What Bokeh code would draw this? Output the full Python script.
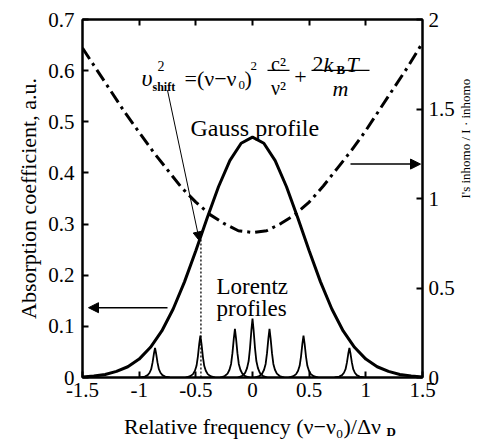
import math
from bokeh.plotting import figure
from bokeh.models import (Range1d, LinearAxis, Label, Arrow, NormalHead, ColumnDataSource,
                          FixedTicker, CustomJSTickFormatter)
from bokeh.embed import file_html
from bokeh.resources import INLINE

# ---------------- data ----------------
gauss_x = [-1.5, -1.4, -1.3, -1.2, -1.1, -1.0, -0.9, -0.8, -0.7, -0.6, -0.5, -0.4, -0.3, -0.2, -0.1,
           0.0, 0.1, 0.2, 0.3, 0.4, 0.5, 0.6, 0.7, 0.8, 0.9, 1.0, 1.1, 1.2, 1.3, 1.4, 1.5]
gauss_y = [0.001, 0.003, 0.006, 0.012, 0.021, 0.036, 0.059, 0.091, 0.134, 0.187, 0.248, 0.312, 0.373, 0.424, 0.458,
           0.470, 0.458, 0.424, 0.373, 0.312, 0.248, 0.187, 0.134, 0.091, 0.059, 0.036, 0.021, 0.012, 0.006, 0.003, 0.001]

ratio_x = [-1.5, -1.375, -1.25, -1.125, -1.0, -0.875, -0.75, -0.625, -0.5, -0.375, -0.25, -0.125,
           0.0, 0.125, 0.25, 0.375, 0.5, 0.625, 0.75, 0.875, 1.0, 1.125, 1.25, 1.375, 1.5]
ratio_y = [1.84, 1.72, 1.60, 1.48, 1.37, 1.26, 1.16, 1.06, 0.98, 0.91, 0.86, 0.82,
           0.81, 0.82, 0.86, 0.91, 0.98, 1.07, 1.17, 1.27, 1.38, 1.50, 1.62, 1.74, 1.87]

lorentz_centers = [-0.86, -0.46, -0.155, 0.0, 0.15, 0.45, 0.855]
lorentz_heights = [0.058, 0.082, 0.095, 0.115, 0.095, 0.082, 0.058]
lorentz_offsets = [-0.13, -0.09, -0.065, -0.048, -0.034, -0.022, -0.01, 0.0,
                   0.01, 0.022, 0.034, 0.048, 0.065, 0.09, 0.13]
lorentz_shape = [0.0, 0.03, 0.08, 0.16, 0.28, 0.5, 0.8, 1.0, 0.8, 0.5, 0.28, 0.16, 0.08, 0.03, 0.0]

shift_x = -0.455
shift_top = 0.27

x_ticks = [-1.5, -1.0, -0.5, 0.0, 0.5, 1.0, 1.5]
left_ticks = [0, 0.1, 0.2, 0.3, 0.4, 0.5, 0.6, 0.7]
right_ticks = [0, 0.5, 1, 1.5, 2]

FONT = "Liberation Serif"

# ---------------- figure ----------------
p = figure(width=484, height=441, output_backend="svg", toolbar_location=None,
           x_range=Range1d(-1.5, 1.5), y_range=Range1d(0, 0.7),
           min_border_left=82, min_border_right=62, min_border_top=19, min_border_bottom=63)
p.extra_y_ranges = {"right": Range1d(0, 2)}
p.xgrid.visible = False
p.ygrid.visible = False
p.outline_line_color = "black"
p.outline_line_width = 2
p.background_fill_color = "white"
p.border_fill_color = "white"

fmt = CustomJSTickFormatter(code="return tick.toString();")


def style_axis(ax, ticks):
    ax.ticker = FixedTicker(ticks=ticks)
    ax.formatter = fmt
    ax.axis_line_width = 2
    ax.axis_line_color = "black"
    ax.major_tick_in = 6
    ax.major_tick_out = 0
    ax.major_tick_line_width = 2
    ax.minor_tick_line_color = None
    ax.major_label_text_font = FONT
    ax.major_label_text_font_size = "21px"
    ax.major_label_text_color = "black"
    ax.axis_label_text_font = FONT
    ax.axis_label_text_font_style = "normal"
    ax.axis_label_text_color = "black"


xa = p.xaxis[0]
style_axis(xa, x_ticks)
xa.major_label_standoff = 5
xa.axis_label = "Relative frequency (ν−ν₀)/Δν"
xa.axis_label_text_font_size = "22px"
xa.axis_label_standoff = 14

ya = p.yaxis[0]
style_axis(ya, left_ticks)
ya.major_label_standoff = 8
ya.axis_label = "Absorption coefficient, a.u."
ya.axis_label_text_font_size = "22px"
ya.axis_label_standoff = 4

right_axis = LinearAxis(y_range_name="right")
style_axis(right_axis, right_ticks)
right_axis.major_label_standoff = 6
right_axis.axis_label = "I's inhomo / I · inhomo"
right_axis.axis_label_text_font_size = "13px"
right_axis.axis_label_standoff = 8
right_axis.axis_label_orientation = math.pi / 2
p.add_layout(right_axis, "right")

top_axis = LinearAxis()
style_axis(top_axis, [-1.0, -0.5, 0.0, 0.5, 1.0])
top_axis.formatter = CustomJSTickFormatter(code="return '';")
top_axis.major_label_text_font_size = "0px"
top_axis.major_label_standoff = 0
p.add_layout(top_axis, "above")

# subscript D of the x-axis label (side-panel label, positioned relative to the frame's left edge)
p.add_layout(Label(x=386 - 82, y=19 - 431, x_units="screen", y_units="screen", text="D",
                   text_font=FONT, text_font_size="13px", text_font_style="bold",
                   text_baseline="alphabetic", text_color="black"), "above")

# ---------------- curves ----------------
p.line(gauss_x, gauss_y, line_color="black", line_width=3)
p.line(ratio_x, ratio_y, y_range_name="right", line_color="black", line_width=3,
       line_dash="13 5 3 5")

lor_xs = [[c + o for o in lorentz_offsets] for c in lorentz_centers]
lor_ys = [[h * f for f in lorentz_shape] for h in lorentz_heights]
p.multi_line(xs=lor_xs, ys=lor_ys, line_color="black", line_width=1.8)

p.line([shift_x, shift_x], [0, shift_top], line_color="black", line_width=1.3, line_dash="2 2")

# ---------------- annotations ----------------
def X(px):
    return -1.5 + (px - 82) / 340.0 * 3.0


def Y(py):
    return (378 - py) / 359.0 * 0.7


def lab(text, px, py, size, style="normal", align="left"):
    p.add_layout(Label(x=X(px), y=Y(py), text=text, text_font=FONT, text_font_size=f"{size}px",
                       text_font_style=style, text_align=align, text_baseline="alphabetic",
                       text_color="black"))


# formula
lab("υ", 141, 78, 24, "italic")
lab("2", 157, 66, 14)
lab("shift", 152, 87, 12, "bold")
lab("=(ν−ν", 184, 78, 22)
lab("0", 238, 85, 13)
lab(")", 244, 78, 22)
lab("2", 250, 66, 13)
lab("c²", 278, 64, 20, align="center")
lab("ν²", 278, 88, 20, align="center")
lab("+", 300, 77, 22, align="center")
lab("2", 312, 64, 22)
lab("k", 323, 64, 22, "italic")
lab("B", 336, 69, 13, "bold")
lab("T", 346, 64, 22, "italic")
lab("m", 340, 88, 22, "italic", align="center")
bars = ColumnDataSource(dict(x0=[X(267), X(311)], x1=[X(289), X(369)], y0=[Y(70), Y(70)], y1=[Y(70), Y(70)]))
p.segment(x0="x0", y0="y0", x1="x1", y1="y1", source=bars, line_color="black", line_width=1.2)

lab("Gauss profile", 190, 128, 24)
lab("Lorentz", 216, 287, 23)
lab("profiles", 216, 309, 23)

# arrows
p.add_layout(Arrow(x_start=X(167), y_start=Y(90), x_end=X(199), y_end=Y(241),
                   line_color="black", line_width=1,
                   end=NormalHead(size=9, fill_color="black", line_color="black")))
p.add_layout(Arrow(x_start=X(167), y_start=Y(308), x_end=X(88), y_end=Y(308),
                   line_color="black", line_width=1.5,
                   end=NormalHead(size=10, fill_color="black", line_color="black")))
p.add_layout(Arrow(x_start=X(350), y_start=Y(164), x_end=X(420), y_end=Y(164),
                   line_color="black", line_width=1.5,
                   end=NormalHead(size=10, fill_color="black", line_color="black")))

open("out.html", "w").write(file_html(p, INLINE))
